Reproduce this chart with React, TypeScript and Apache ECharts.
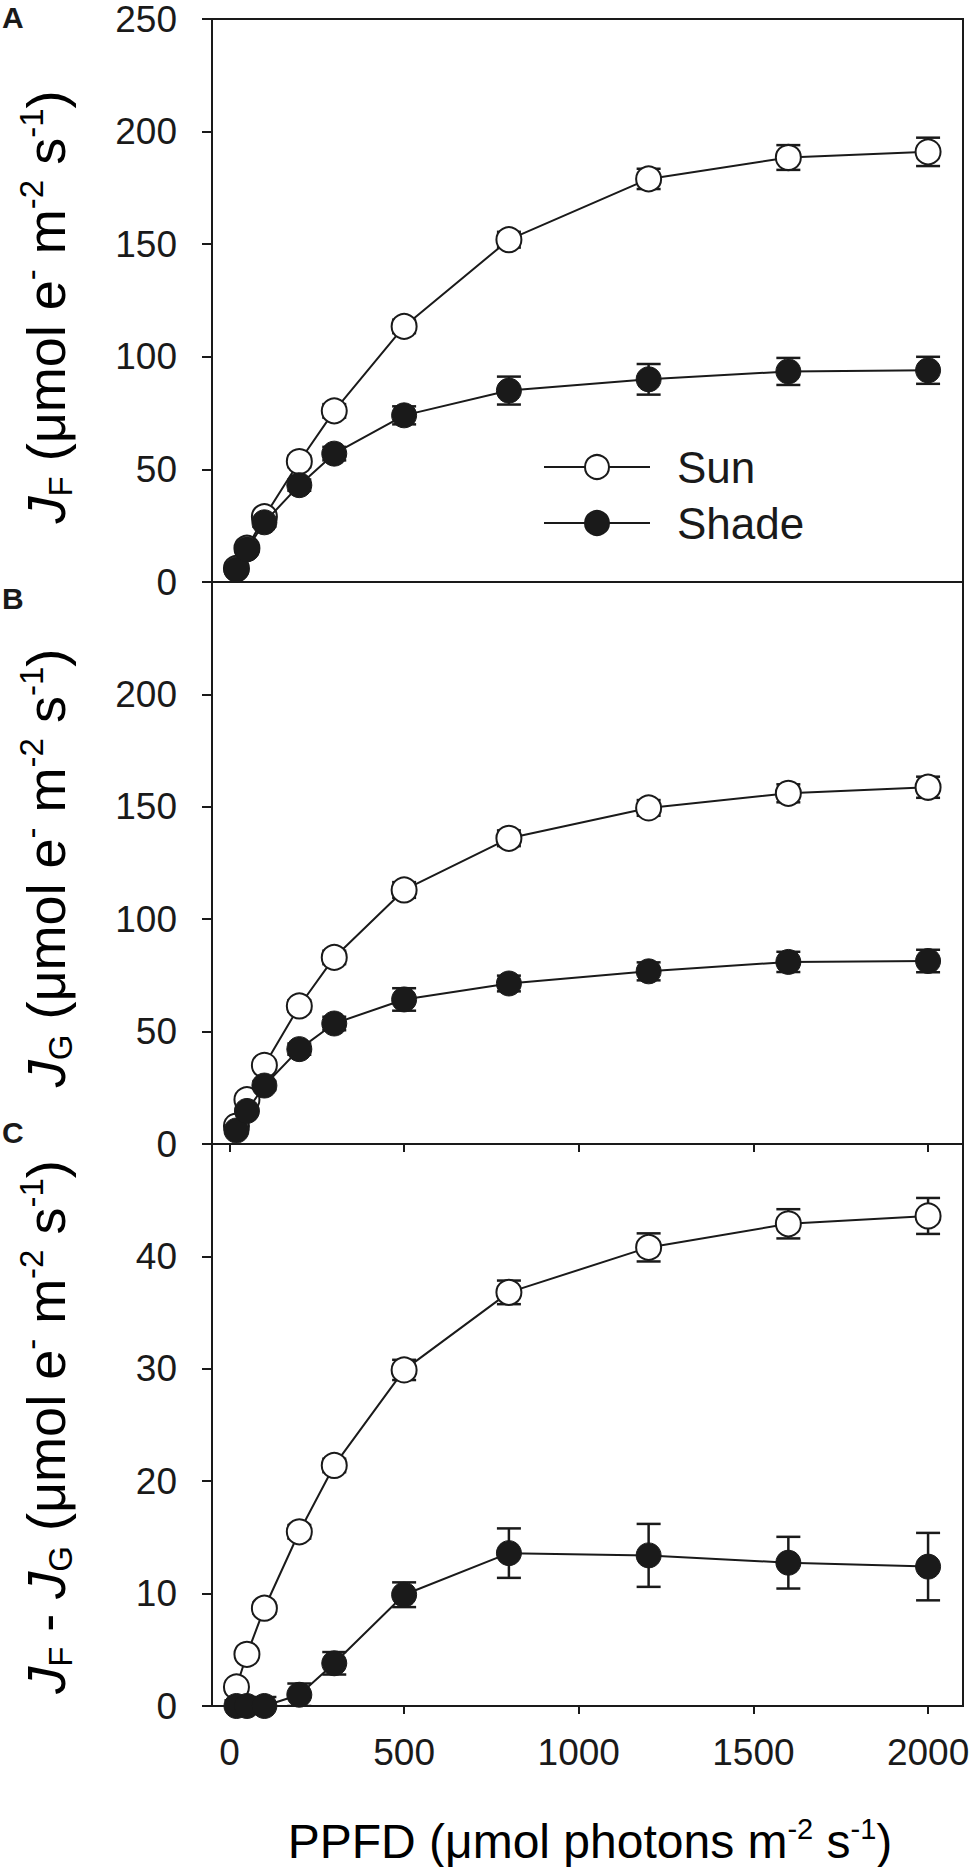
import React, { useEffect, useRef } from "react";
import * as echarts from "echarts";

const ppfd = [20, 50, 100, 200, 300, 500, 800, 1200, 1600, 2000];
const xTicks = [0, 500, 1000, 1500, 2000];

const sunJF = [6, 15, 29, 53.5, 76, 113.5, 152, 179, 188.5, 191];
const sunJFErr = [1.5, 2, 2, 2.5, 3, 3, 3.5, 4.5, 5.5, 6.3];
const shadeJF = [5.5, 14.5, 26.5, 43, 57, 74, 85, 90, 93.5, 94];
const shadeJFErr = [1.5, 2, 2, 2.5, 3, 4, 6.2, 6.8, 6, 6];

const sunJG = [8, 19.7, 35, 61.4, 83, 113, 136, 149.5, 156, 158.7];
const sunJGErr = [1, 1.5, 2, 2.5, 3, 3.5, 3.5, 3.5, 4, 4.7];
const shadeJG = [6, 14.7, 26, 42.2, 53.6, 64.3, 71.4, 76.8, 81, 81.4];
const shadeJGErr = [1, 1.5, 2, 2.5, 3, 5, 3.5, 4, 4.5, 5];

const sunDiff = [1.7, 4.6, 8.7, 15.5, 21.4, 29.9, 36.8, 40.8, 42.9, 43.6];
const sunDiffErr = [0.3, 0.4, 0.5, 0.6, 0.6, 0.9, 1.05, 1.25, 1.3, 1.6];
const shadeDiff = [0, 0, 0, 1.0, 3.8, 9.9, 13.6, 13.4, 12.75, 12.4];
const shadeDiffErr = [0.5, 0.6, 0.8, 1.0, 1.0, 1.1, 2.2, 2.8, 2.3, 3.0];

const FONT = "Liberation Sans, Arial, Helvetica, sans-serif";
const INK = "#1a1a1a";

const pairs = (ys: number[]) => ppfd.map((x, i) => [x, ys[i]]);
const errs = (ys: number[], es: number[]) =>
  ppfd.map((x, i) => [x, ys[i] - es[i], ys[i] + es[i]]);

function errorRender(params: any, api: any) {
  const x = api.value(0);
  const lo = api.coord([x, api.value(1)]);
  const hi = api.coord([x, api.value(2)]);
  const hw = 12;
  const st = { stroke: INK, lineWidth: 2.5 };
  return {
    type: "group",
    children: [
      { type: "line", shape: { x1: lo[0], y1: lo[1], x2: hi[0], y2: hi[1] }, style: st },
      { type: "line", shape: { x1: lo[0] - hw, y1: lo[1], x2: lo[0] + hw, y2: lo[1] }, style: st },
      { type: "line", shape: { x1: hi[0] - hw, y1: hi[1], x2: hi[0] + hw, y2: hi[1] }, style: st },
    ],
  };
}

export default function App() {
  const ref = useRef<HTMLDivElement>(null);
  useEffect(() => {
    if (!ref.current) return;
    const chart = echarts.init(ref.current, undefined, { renderer: "svg" });

    const gridL = 212;
    const gridW = 751;
    const grids = [
      { left: gridL, top: 19, width: gridW, height: 563 },
      { left: gridL, top: 582, width: gridW, height: 562 },
      { left: gridL, top: 1144, width: gridW, height: 562 },
    ].map((g) => ({ ...g, show: true, borderColor: INK, borderWidth: 2, backgroundColor: "transparent" }));

    const axisLine = { show: true, onZero: false, lineStyle: { color: INK, width: 2 } };
    const tickLabel = { fontSize: 37, fontFamily: FONT, color: INK };

    const xAxes = [0, 1, 2].map((i) => ({
      type: "value",
      gridIndex: i,
      min: -50,
      max: 2100,
      axisLine,
      splitLine: { show: false },
      axisTick: {
        show: i > 0,
        customValues: xTicks,
        inside: false,
        length: 8,
        lineStyle: { color: INK, width: 2 },
      },
      axisLabel: {
        show: i === 2,
        customValues: xTicks,
        margin: 28,
        ...tickLabel,
        formatter: (v: number) => String(v),
      },
    }));

    const yCfg = [
      { max: 250, interval: 50, hideTop: false },
      { max: 250, interval: 50, hideTop: true },
      { max: 50, interval: 10, hideTop: true },
    ];
    const yAxes = yCfg.map((c, i) => ({
      type: "value",
      gridIndex: i,
      min: 0,
      max: c.max,
      interval: c.interval,
      axisLine,
      splitLine: { show: false },
      axisTick: { show: true, inside: false, length: 10, lineStyle: { color: INK, width: 2 } },
      axisLabel: {
        margin: 35,
        ...tickLabel,
        formatter: (v: number) => (c.hideTop && v === c.max ? "" : String(v)),
      },
    }));

    const sunStyle = {
      symbol: "circle",
      symbolSize: 25,
      itemStyle: { color: "#ffffff", borderColor: INK, borderWidth: 2 },
      lineStyle: { color: INK, width: 2 },
    };
    const shadeStyle = {
      symbol: "circle",
      symbolSize: 25,
      itemStyle: { color: INK, borderColor: INK, borderWidth: 1 },
      lineStyle: { color: INK, width: 2 },
    };

    const panels = [
      { sun: sunJF, sunE: sunJFErr, shade: shadeJF, shadeE: shadeJFErr },
      { sun: sunJG, sunE: sunJGErr, shade: shadeJG, shadeE: shadeJGErr },
      { sun: sunDiff, sunE: sunDiffErr, shade: shadeDiff, shadeE: shadeDiffErr },
    ];

    const series: any[] = [];
    panels.forEach((p, i) => {
      series.push({
        type: "custom",
        name: "Sun error " + i,
        xAxisIndex: i,
        yAxisIndex: i,
        renderItem: errorRender,
        encode: { x: 0, y: [1, 2] },
        data: errs(p.sun, p.sunE),
        clip: true,
        z: 1,
      });
      series.push({
        type: "custom",
        name: "Shade error " + i,
        xAxisIndex: i,
        yAxisIndex: i,
        renderItem: errorRender,
        encode: { x: 0, y: [1, 2] },
        data: errs(p.shade, p.shadeE),
        clip: true,
        z: 1,
      });
      series.push({
        type: "line",
        name: "Sun",
        xAxisIndex: i,
        yAxisIndex: i,
        data: pairs(p.sun),
        z: 3,
        ...sunStyle,
      });
      series.push({
        type: "line",
        name: "Shade",
        xAxisIndex: i,
        yAxisIndex: i,
        data: pairs(p.shade),
        z: 4,
        ...shadeStyle,
      });
    });

    const rich = {
      n: { fontSize: 54, fontFamily: FONT, color: INK, lineHeight: 62 },
      i: { fontSize: 54, fontFamily: FONT, color: INK, fontStyle: "italic", lineHeight: 62 },
      sub: { fontSize: 33, fontFamily: FONT, color: INK, verticalAlign: "bottom", lineHeight: 33 },
      sup: { fontSize: 33, fontFamily: FONT, color: INK, verticalAlign: "top", lineHeight: 33 },
    };
    const unit = "{n| (μmol e}{sup|-}{n| m}{sup|-2}{n| s}{sup|-1}{n|)}";
    const yTitles = [
      { text: "{i|J}{sub|F}" + unit, y: 307 },
      { text: "{i|J}{sub|G}" + unit, y: 868 },
      { text: "{i|J}{sub|F}{n| - }{i|J}{sub|G}" + unit, y: 1427 },
    ];

    const graphic: any[] = [];
    yTitles.forEach((t) => {
      graphic.push({
        type: "text",
        x: 46,
        y: t.y,
        rotation: Math.PI / 2,
        style: { text: t.text, rich, align: "center", verticalAlign: "middle" },
      });
    });
    graphic.push({
      type: "text",
      x: 590,
      y: 1841,
      style: {
        text: "{n|PPFD (μmol photons m}{sup|-2}{n| s}{sup|-1}{n|)}",
        rich: {
          n: { fontSize: 48, fontFamily: FONT, color: INK, lineHeight: 54 },
          sup: { fontSize: 29, fontFamily: FONT, color: INK, verticalAlign: "top", lineHeight: 29 },
        },
        align: "center",
        verticalAlign: "middle",
      },
    });
    [
      { t: "A", y: 17 },
      { t: "B", y: 598 },
      { t: "C", y: 1132 },
    ].forEach((l) => {
      graphic.push({
        type: "text",
        x: 2,
        y: l.y,
        style: {
          text: l.t,
          fontSize: 30,
          fontWeight: "bold",
          fontFamily: FONT,
          fill: INK,
          align: "left",
          verticalAlign: "middle",
        },
      });
    });

    chart.setOption({
      animation: false,
      backgroundColor: "#ffffff",
      grid: grids,
      xAxis: xAxes,
      yAxis: yAxes,
      legend: {
        show: true,
        data: ["Sun", "Shade"],
        orient: "vertical",
        left: 543,
        top: 445,
        padding: 0,
        itemWidth: 106,
        itemHeight: 30,
        itemGap: 12,
        selectedMode: false,
        textStyle: {
          fontSize: 44,
          fontFamily: FONT,
          color: INK,
          padding: [0, 0, 0, 22],
        },
      },
      graphic,
      series,
    });
    return () => chart.dispose();
  }, []);
  return (
    <div
      ref={ref}
      style={{ position: "absolute", left: 0, top: 0, width: 975, height: 1867, background: "#fff" }}
    />
  );
}
